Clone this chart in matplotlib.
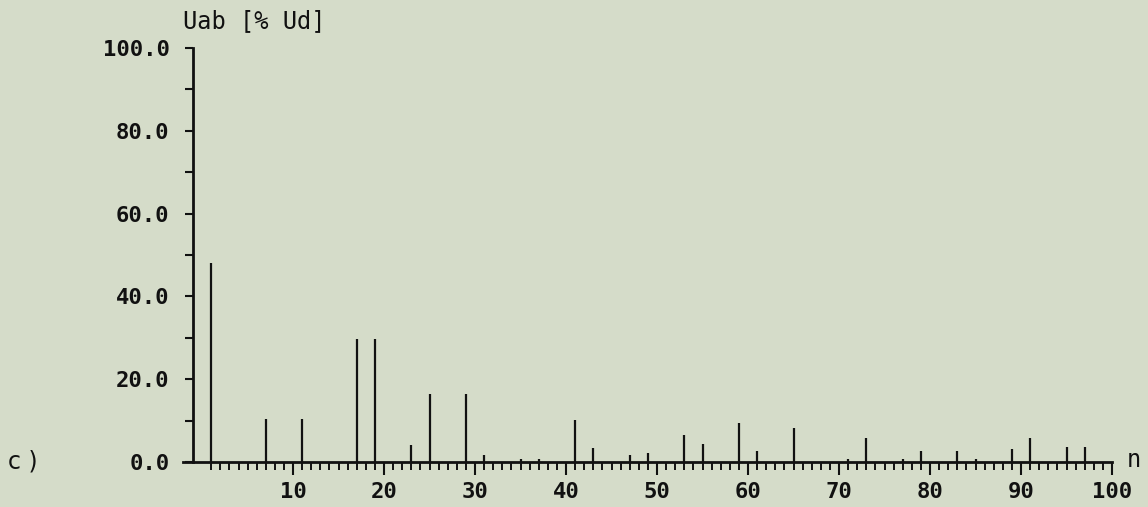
import numpy as np
import matplotlib as mpl
mpl.use("Agg")
import matplotlib.pyplot as plt
from matplotlib.ticker import FixedLocator, MultipleLocator

# ---------------------------------------------------------
# data: harmonic order n and amplitude Uab in % of Ud
# ---------------------------------------------------------
order = [1, 7, 11, 17, 19, 23, 25, 29, 31, 35, 37, 41, 43, 47, 49,
         53, 55, 59, 61, 65, 71, 73, 77, 79, 83, 85, 89, 91, 95, 97]
uab = [48.0, 10.3, 10.3, 29.6, 29.6, 4.1, 16.4, 16.4, 1.7, 0.8, 0.8, 10.1, 3.4, 1.7, 2.1,
       6.5, 4.3, 9.4, 2.7, 8.2, 0.7, 5.8, 0.7, 2.7, 2.7, 0.8, 3.2, 5.8, 3.7, 3.7]

x_ticks = [10, 20, 30, 40, 50, 60, 70, 80, 90, 100]
y_ticks = [0, 20, 40, 60, 80, 100]

# ---------------------------------------------------------
# style
# ---------------------------------------------------------
BG = "#d5dcc9"
INK = "#111111"
MONO = "DejaVu Sans Mono"

W, H, DPI = 1148, 507, 100
fig = plt.figure(figsize=(W / DPI, H / DPI), dpi=DPI, facecolor=BG)

# axes box in pixels: left 183, right 1112, bottom 462, top 48
ax = fig.add_axes([183 / W, (H - 462) / H, 929 / W, 414 / H])
ax.set_facecolor(BG)

ax.vlines(order, 0, uab, colors=INK, linewidth=1.6, zorder=3)

ax.set_xlim(-2.1, 100)
ax.set_ylim(0, 100)

for s in ("top", "right"):
    ax.spines[s].set_visible(False)
ax.spines["left"].set_position(("data", -1.0))
for s in ("left", "bottom"):
    ax.spines[s].set_linewidth(2.0)
    ax.spines[s].set_color(INK)

ax.set_xticks(x_ticks)
ax.set_xticklabels([str(v) for v in x_ticks])
# one small tick per harmonic order, starting at n = 1
ax.xaxis.set_minor_locator(FixedLocator([k for k in range(1, 101) if k % 10]))
ax.set_yticks(y_ticks)
ax.set_yticklabels([f"{v:.1f}" for v in y_ticks])
ax.yaxis.set_minor_locator(MultipleLocator(10))

ax.tick_params(axis="x", which="major", direction="out", length=9.5, width=1.5,
               color=INK, pad=5, labelsize=16)
ax.tick_params(axis="x", which="minor", direction="out", length=5.5, width=1.4,
               color=INK)
ax.tick_params(axis="y", which="both", direction="out", length=6, width=1.5,
               color=INK, pad=11, labelsize=16)
for lab in ax.get_xticklabels() + ax.get_yticklabels():
    lab.set_fontfamily(MONO)
    lab.set_fontweight("bold")
    lab.set_color(INK)

# axis titles
fig.text(183 / W, 1 - 21 / H, "Uab [% Ud]", family=MONO, fontsize=17,
         color=INK, ha="left", va="center")
fig.text(1127 / W, 1 - 460 / H, "n", family=MONO, fontsize=17,
         color=INK, ha="left", va="center")
fig.text(8 / W, 1 - 462 / H, "c )", family="DejaVu Sans", fontsize=17,
         color=INK, ha="left", va="center")

fig.savefig("out.png", dpi=DPI, facecolor=BG)
plt.close(fig)
